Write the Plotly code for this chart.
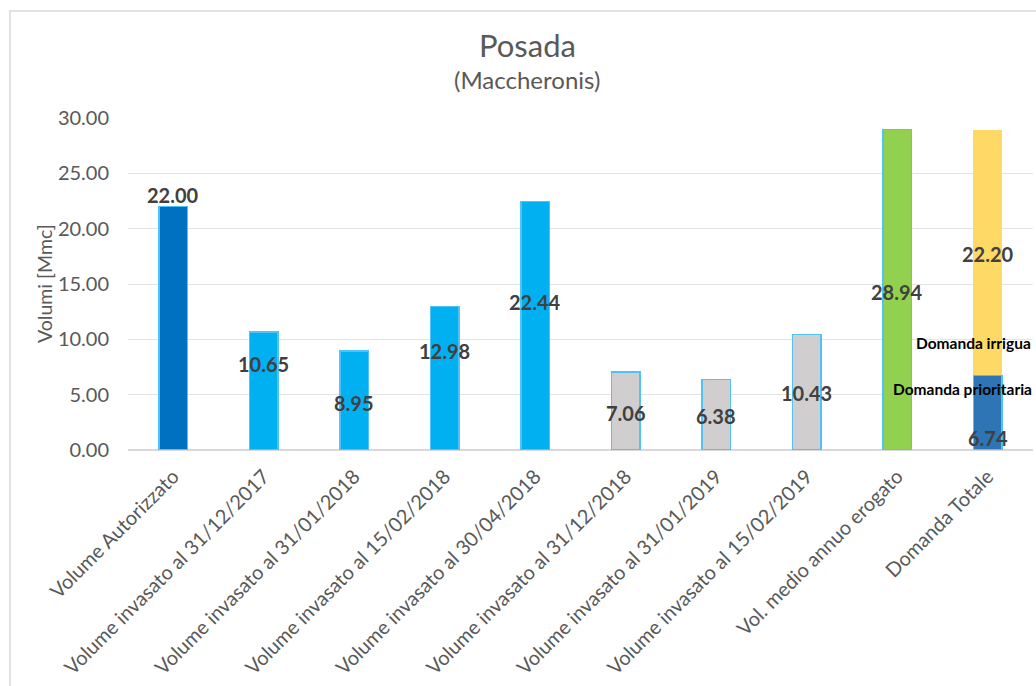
import plotly.graph_objects as go

# Categories and volumes (Mmc)
categories = [
    "Volume Autorizzato",
    "Volume invasato al 31/12/2017",
    "Volume invasato al 31/01/2018",
    "Volume invasato al 15/02/2018",
    "Volume invasato al 30/04/2018",
    "Volume invasato al 31/12/2018",
    "Volume invasato al 31/01/2019",
    "Volume invasato al 15/02/2019",
    "Vol. medio annuo erogato",
    "Domanda Totale",
]
volumes = [22.00, 10.65, 8.95, 12.98, 22.44, 7.06, 6.38, 10.43, 28.94, 6.74]
domanda_irrigua = [None] * 9 + [22.20]

# Vertical placement of the value labels (data units)
label_y = [23.05, 7.77, 4.25, 8.94, 13.37, 3.34, 3.07, 5.15, 14.27, 1.08]
irrigua_label_y = 17.7

fill_colors = ["#0070C0"] + ["#00B0F0"] * 4 + ["#D0CECE"] * 3 + ["#92D050", "#2E75B6"]
line_colors = ["#4FC3F7"] * 10

FONT = "Lato"
GREY = "#595959"
DARK = "#404040"

fig = go.Figure()
fig.add_trace(go.Bar(
    x=categories, y=volumes, width=0.32,
    marker=dict(color=fill_colors, line=dict(color=line_colors, width=1.5)),
    hoverinfo="x+y", showlegend=False,
))
fig.add_trace(go.Bar(
    x=categories, y=domanda_irrigua, width=0.32,
    marker=dict(color="#FFD966", line=dict(width=0)),
    hoverinfo="x+y", showlegend=False,
))

annotations = []
for cat, v, ly in zip(categories, volumes, label_y):
    annotations.append(dict(
        x=cat, y=ly, xref="x", yref="y", text=f"<b>{v:.2f}</b>",
        showarrow=False, xanchor="center", yanchor="middle",
        font=dict(family=FONT, size=20, color=DARK),
    ))
annotations.append(dict(
    x=categories[-1], y=irrigua_label_y, xref="x", yref="y",
    text=f"<b>{domanda_irrigua[-1]:.2f}</b>", showarrow=False,
    xanchor="center", yanchor="middle",
    font=dict(family=FONT, size=20, color=DARK),
))
annotations.append(dict(
    x=8.84, y=9.67, xref="x", yref="y", text="<b>Domanda irrigua</b>",
    showarrow=False, xanchor="center", yanchor="middle",
    font=dict(family=FONT, size=15.5, color="#000000"),
))
annotations.append(dict(
    x=8.72, y=5.51, xref="x", yref="y", text="<b>Domanda prioritaria</b>",
    showarrow=False, xanchor="center", yanchor="middle",
    font=dict(family=FONT, size=15.5, color="#000000"),
))
# Title and subtitle
annotations.append(dict(
    x=0.4409, y=1.2199, xref="paper", yref="paper", text="Posada",
    showarrow=False, xanchor="center", yanchor="middle",
    font=dict(family=FONT, size=31, color=GREY),
))
annotations.append(dict(
    x=0.4409, y=1.1145, xref="paper", yref="paper", text="(Maccheronis)",
    showarrow=False, xanchor="center", yanchor="middle",
    font=dict(family=FONT, size=24, color=GREY),
))
# Y axis title
annotations.append(dict(
    x=-0.0928, y=0.5, xref="paper", yref="paper", text="Volumi [Mmc]",
    textangle=-90, showarrow=False, xanchor="center", yanchor="middle",
    font=dict(family=FONT, size=19.5, color=GREY),
))

fig.update_layout(
    width=1036, height=686,
    margin=dict(l=128, r=3, t=118, b=236),
    paper_bgcolor="white", plot_bgcolor="white",
    barmode="stack",
    annotations=annotations,
    shapes=[dict(
        type="rect", xref="paper", yref="paper",
        x0=-0.1304, x1=1.2, y0=-0.9, y1=1.3223,
        line=dict(color="#D9D9D9", width=1.5), fillcolor="rgba(0,0,0,0)",
        layer="below",
    )],
)
fig.update_xaxes(
    tickangle=-45, automargin=False, showgrid=False, showline=False,
    ticklabelstandoff=10,
    tickfont=dict(family=FONT, size=20, color=GREY), range=[-0.5, 9.5],
)
fig.update_yaxes(
    range=[0, 30], dtick=5, tickformat=".2f", automargin=False,
    showgrid=True, gridcolor="#E3E3E3", gridwidth=1,
    zeroline=True, zerolinecolor="#D9D9D9", zerolinewidth=1.5,
    showline=False, ticklabelstandoff=18,
    tickfont=dict(family=FONT, size=20, color=GREY),
)

fig.write_html("out.html")
